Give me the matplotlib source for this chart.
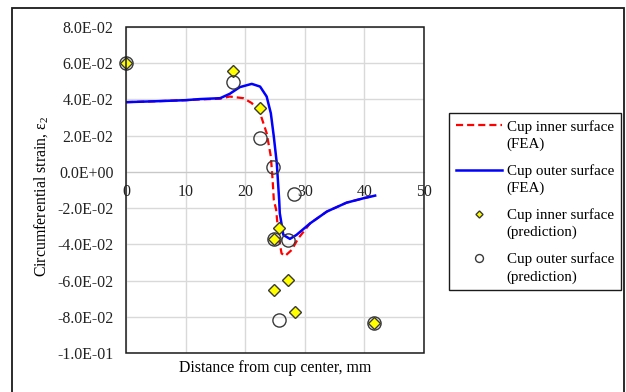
import numpy as np
import matplotlib
matplotlib.use("Agg")
import matplotlib.pyplot as plt
from matplotlib.lines import Line2D
from matplotlib.legend_handler import HandlerLine2D
from matplotlib.patches import Rectangle
from matplotlib.ticker import FuncFormatter

plt.rcParams['font.family'] = ['Liberation Serif', 'DejaVu Serif']
plt.rcParams['mathtext.fontset'] = 'custom'
plt.rcParams['mathtext.rm'] = 'Liberation Serif'
plt.rcParams['mathtext.it'] = 'Liberation Serif:italic'

# FEA curves
inner_fea_x = [0, 5, 10, 12.4, 15.8, 17.4, 19.7, 21.1, 22.5, 23.6, 24.3, 24.6, 24.8, 25.2, 25.6,
               26.1, 26.7, 27.8, 28.9, 29.8, 30.9, 33.7, 37.0, 39.8, 41.8]
inner_fea_y = [0.0385, 0.039, 0.0396, 0.0400, 0.0404, 0.0416, 0.0407, 0.038, 0.0324, 0.0214,
               0.0085, -0.0044, -0.0155, -0.021, -0.0357, -0.045, -0.0464, -0.0431, -0.0367,
               -0.033, -0.0284, -0.0219, -0.0170, -0.0146, -0.0131]
outer_fea_x = [0, 5, 10, 12.4, 15.8, 17.4, 19.1, 21.1, 22.5, 23.6, 24.3, 24.8, 25.3, 25.7, 25.8,
               26.4, 27.5, 28.6, 30.9, 33.7, 37.0, 39.8, 41.8]
outer_fea_y = [0.0385, 0.039, 0.0396, 0.0402, 0.0407, 0.0431, 0.0468, 0.0486, 0.0471, 0.0416,
               0.0324, 0.0195, 0.0048, -0.0155, -0.0228, -0.0348, -0.037, -0.0348, -0.0284,
               -0.0219, -0.0170, -0.0146, -0.0131]

# Predictions
inner_pred_x = [0, 18.0, 22.4, 25.6, 24.8, 24.8, 27.1, 28.3, 41.6]
inner_pred_y = [0.060, 0.0558, 0.0352, -0.0308, -0.0368, -0.065, -0.0598, -0.0775, -0.0835]
outer_pred_x = [0, 18.0, 22.4, 24.7, 28.2, 27.2, 24.8, 25.6, 41.6]
outer_pred_y = [0.060, 0.0497, 0.0186, 0.0029, -0.0122, -0.0378, -0.0368, -0.0818, -0.0835]

x_ticks = [0, 10, 20, 30, 40, 50]
y_ticks = [-0.10, -0.08, -0.06, -0.04, -0.02, 0.0, 0.02, 0.04, 0.06, 0.08]

fig = plt.figure(figsize=(6.26, 3.92), dpi=100)
ax = fig.add_axes([126/626, 1-353/392, (424-126)/626, (353-27)/392])

ax.plot(inner_fea_x, inner_fea_y, color='#ff0000', lw=1.6, ls=(0, (3.2, 1.8)),
        label='Cup inner surface\n(FEA)', zorder=3, solid_joinstyle='round')
ax.plot(outer_fea_x, outer_fea_y, color='#0000ff', lw=1.8,
        label='Cup outer surface\n(FEA)', zorder=4, solid_joinstyle='round')
ax.plot(inner_pred_x, inner_pred_y, ls='none', marker='D', ms=6, mfc='#ffff00',
        mec='#3a3a3a', mew=1.0, label='Cup inner surface\n(prediction)', zorder=5, clip_on=False)
ax.plot(outer_pred_x, outer_pred_y, ls='none', marker='o', ms=9.5, mfc='none',
        mec='#3a3a3a', mew=1.0, label='Cup outer surface\n(prediction)', zorder=6, clip_on=False)

ax.set_xlim(0, 50)
ax.set_ylim(-0.10, 0.08)
ax.set_xticks(x_ticks)
ax.set_yticks(y_ticks)
ax.yaxis.set_major_formatter(FuncFormatter(lambda v, p: "0.0E+00" if abs(v) < 1e-12 else f"{v:.1E}"))
ax.grid(True, color='#d9d9d9', lw=1.0, zorder=0)
ax.set_axisbelow(True)
for s in ['top', 'right', 'left']:
    ax.spines[s].set_visible(False)
ax.spines['bottom'].set_position(('data', 0))
ax.spines['bottom'].set_color('#c8c8c8')
ax.tick_params(axis='both', length=0, labelsize=11.4, colors='#222222')
ax.tick_params(axis='x', pad=9)
ax.tick_params(axis='y', pad=9)
ax.add_patch(Rectangle((0, 0), 1, 1, transform=ax.transAxes, fill=False,
                       ec='#1a1a1a', lw=1.1, clip_on=False, zorder=10))

ax.set_xlabel('Distance from cup center, mm', fontsize=11.4)
ax.xaxis.set_label_coords(0.5, -0.02)
ax.set_ylabel('Circumferential strain, $\\mathregular{ε_2}$', fontsize=11.4)
ax.yaxis.set_label_coords(-0.255, 0.48)


class TopHandler(HandlerLine2D):
    def create_artists(self, legend, orig_handle, xdescent, ydescent, width, height, fontsize, trans):
        shift = 7.0
        return super().create_artists(legend, orig_handle, xdescent, ydescent, width,
                                      height + 2 * shift, fontsize, trans)


leg = ax.legend(loc='upper left', bbox_to_anchor=(449/626, 1-113/392), bbox_transform=fig.transFigure,
                fontsize=10.8, frameon=True, fancybox=False, edgecolor='#1a1a1a', framealpha=1,
                handlelength=3.1, handletextpad=0.3, labelspacing=0.85, borderpad=0.45,
                borderaxespad=0, markerscale=0.6, handler_map={Line2D: TopHandler()})
leg.get_frame().set_linewidth(1.0)
for t in leg.get_texts():
    t.set_linespacing(1.4)

fig.patches.append(Rectangle((12/626, -0.1), (624-12)/626, 1.1 - 8/392, transform=fig.transFigure,
                             fill=False, ec='#1a1a1a', lw=1.3, zorder=0))

fig.savefig('out.png', dpi=100)
